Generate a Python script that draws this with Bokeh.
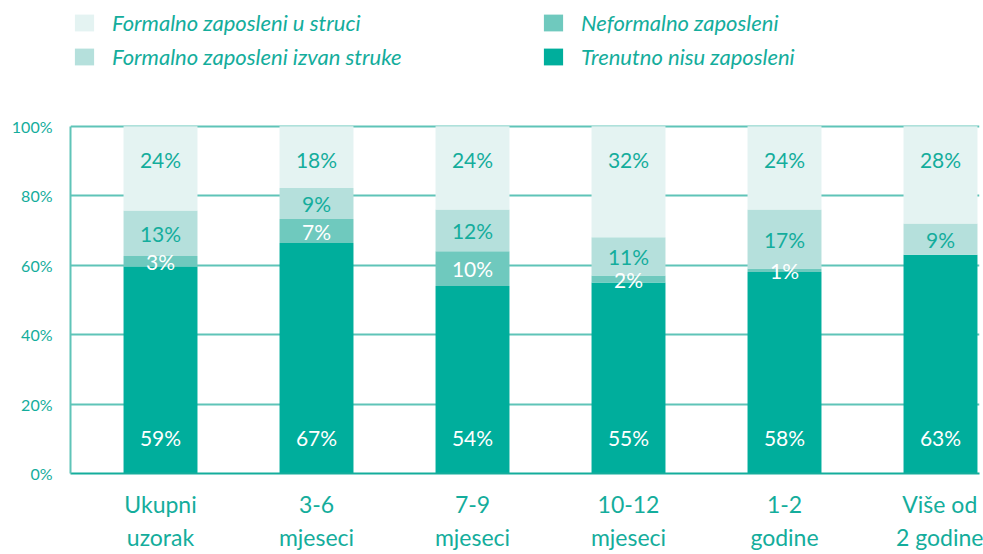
from bokeh.plotting import figure
from bokeh.models import (ColumnDataSource, Range1d, FixedTicker, Legend, LegendItem)
from bokeh.core.properties import value
from bokeh.embed import file_html
from bokeh.resources import INLINE

# ---- data ----
categories = ["Ukupni\nuzorak", "3-6\nmjeseci", "7-9\nmjeseci", "10-12\nmjeseci",
              "1-2\ngodine", "Više od\n2 godine"]
trenutno = [59, 67, 54, 55, 58, 63]        # Trenutno nisu zaposleni
neformalno = [3, 7, 10, 2, 1, 0]           # Neformalno zaposleni
izvan = [13, 9, 12, 11, 17, 9]             # Formalno zaposleni izvan struke
u_struci = [24, 18, 24, 32, 24, 28]        # Formalno zaposleni u struci
series_names = ["Trenutno nisu zaposleni", "Neformalno zaposleni",
                "Formalno zaposleni izvan struke", "Formalno zaposleni u struci"]
y_ticks = [0, 0.2, 0.4, 0.6, 0.8, 1.0]
y_tick_labels = ["0%", "20%", "40%", "60%", "80%", "100%"]

# ---- styles ----
TEAL_TEXT = "#14ad9c"
COLORS = ["#00ae9c", "#6fc9be", "#b5e0dc", "#e4f3f2"]
FONT = "Lato"

series = [trenutno, neformalno, izvan, u_struci]
keys = ["s0", "s1", "s2", "s3"]
xs = list(range(len(categories)))
totals = [sum(s[i] for s in series) for i in xs]

data = {"x": xs}
for k, s in zip(keys, series):
    data[k] = [v / t for v, t in zip(s, totals)]
source = ColumnDataSource(data)

# frame spans the full height above the axis; 100% sits ~127px below the top,
# leaving room for the legend
p = figure(width=983, height=554, output_backend="svg", toolbar_location=None,
           x_range=Range1d(-0.577, 5.25), y_range=Range1d(0, 1.362),
           min_border_left=70, min_border_right=4, min_border_top=0,
           min_border_bottom=78)
p.outline_line_color = None

renderers = p.vbar_stack(keys, x="x", width=0.474, color=COLORS, line_color=None,
                         source=source)

# ---- value labels ----
lab_x, lab_y, lab_t, lab_c = [], [], [], []
for i in xs:
    f = [data[k][i] for k in keys]
    c0 = f[0]
    c1 = c0 + f[1]
    c2 = c1 + f[2]
    lab_x.append(i); lab_y.append(0.103); lab_t.append(f"{trenutno[i]}%"); lab_c.append("white")
    if neformalno[i] > 0:
        lab_x.append(i); lab_y.append((c0 + c1) / 2); lab_t.append(f"{neformalno[i]}%"); lab_c.append("white")
    lab_x.append(i); lab_y.append((c1 + c2) / 2); lab_t.append(f"{izvan[i]}%"); lab_c.append(TEAL_TEXT)
    lab_x.append(i); lab_y.append(0.905); lab_t.append(f"{u_struci[i]}%"); lab_c.append(TEAL_TEXT)

lsrc = ColumnDataSource(dict(x=lab_x, y=lab_y, t=lab_t, c=lab_c))
p.text(x="x", y="y", text="t", text_color="c", source=lsrc,
       text_font=value(FONT), text_font_size="21px",
       text_align="center", text_baseline="middle")

# ---- axes ----
p.yaxis.ticker = FixedTicker(ticks=y_ticks)
p.yaxis.bounds = (0, 1)
p.yaxis.major_label_overrides = {t: l for t, l in zip(y_ticks, y_tick_labels)}
p.yaxis.major_label_text_font = FONT
p.yaxis.major_label_text_font_size = "16px"
p.yaxis.major_label_text_color = TEAL_TEXT
p.yaxis.axis_line_color = "#5fc4b8"
p.yaxis.axis_line_width = 2
p.yaxis.major_tick_line_color = None
p.yaxis.minor_tick_line_color = None
p.yaxis.major_label_standoff = 12

p.xaxis.ticker = FixedTicker(ticks=xs)
p.xaxis.major_label_overrides = {i: c for i, c in zip(xs, categories)}
p.xaxis.major_label_text_font = FONT
p.xaxis.major_label_text_font_size = "23px"
p.xaxis.major_label_text_color = TEAL_TEXT
p.xaxis.axis_line_color = "#14ad9c"
p.xaxis.axis_line_width = 2
p.xaxis.major_tick_line_color = None
p.xaxis.minor_tick_line_color = None
p.xaxis.major_label_standoff = 10

p.xgrid.grid_line_color = None
p.ygrid.ticker = FixedTicker(ticks=y_ticks)
p.ygrid.grid_line_color = "#5fc4b8"
p.ygrid.grid_line_width = 2

# ---- legends (two columns of two) ----
def make_legend(items, loc):
    return Legend(items=items, location=loc, orientation="vertical",
                  glyph_width=24, glyph_height=21, label_standoff=16, spacing=7,
                  padding=0, margin=0, border_line_color=None,
                  background_fill_alpha=0,
                  label_text_font=FONT, label_text_font_size="22px",
                  label_text_font_style="italic", label_text_color=TEAL_TEXT)

leg1 = make_legend([LegendItem(label=series_names[3], renderers=[renderers[3]]),
                    LegendItem(label=series_names[2], renderers=[renderers[2]])], (2, 403))
leg2 = make_legend([LegendItem(label=series_names[1], renderers=[renderers[1]]),
                    LegendItem(label=series_names[0], renderers=[renderers[0]])], (471, 403))
p.add_layout(leg1)
p.add_layout(leg2)

open("out.html", "w").write(file_html(p, INLINE))
